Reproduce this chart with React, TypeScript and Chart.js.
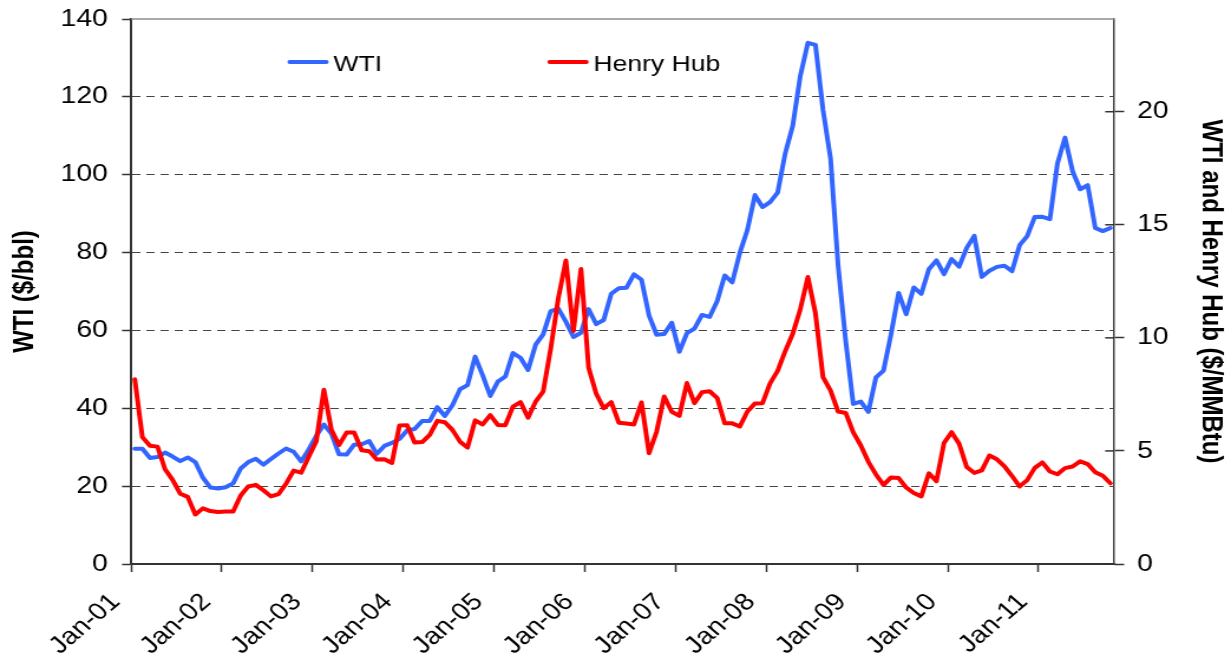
import React, { useEffect, useRef } from 'react';
import { Chart, registerables } from 'chart.js';

Chart.register(...registerables);

const FONT = '"Liberation Sans", Arial, Helvetica, sans-serif';

// The reference is a horizontally stretched picture: draw on a narrower canvas and stretch it.
const OUT_W = 1231;
const OUT_H = 656;
const STRETCH_X = 1.18;
const CANVAS_W = Math.round(OUT_W / STRETCH_X);

// Tick labels of the time axis (one per January)
const yearTicks = ['Jan-01', 'Jan-02', 'Jan-03', 'Jan-04', 'Jan-05', 'Jan-06', 'Jan-07', 'Jan-08', 'Jan-09', 'Jan-10', 'Jan-11'];
// Monthly observations shown: Jan-2001 .. Oct-2011
const monthsShown = 130;

const seriesNames = ['WTI', 'Henry Hub'];
const seriesColors = ['#3366FF', '#FF0000'];

const leftAxisTitle = 'WTI ($/bbl)';
const rightAxisTitle = 'WTI and Henry Hub ($/MMBtu)';

// WTI spot, $/bbl, monthly
const wti = [
  29.59, 29.61, 27.25, 27.49, 28.63, 27.6, 26.43, 27.37, 26.2, 22.17, 19.64, 19.39,
  19.72, 20.72, 24.53, 26.18, 27.04, 25.52, 26.97, 28.39, 29.66, 28.84, 26.35, 29.46,
  32.95, 35.83, 33.51, 28.17, 28.11, 30.66, 30.75, 31.57, 28.31, 30.34, 31.11, 32.13,
  34.31, 34.69, 36.74, 36.75, 40.28, 38.03, 40.78, 44.9, 45.94, 53.28, 48.47, 43.15,
  46.84, 48.15, 54.19, 52.98, 49.83, 56.35, 58.99, 64.98, 65.59, 62.26, 58.32, 59.41,
  65.49, 61.63, 62.69, 69.44, 70.84, 70.95, 74.41, 73.04, 63.8, 58.89, 59.08, 61.96,
  54.51, 59.28, 60.44, 63.98, 63.46, 67.49, 74.12, 72.36, 79.92, 85.8, 94.77, 91.69,
  92.97, 95.39, 105.45, 112.58, 125.4, 133.88, 133.37, 116.67, 104.11, 76.61, 57.31, 41.12,
  41.71, 39.09, 47.94, 49.65, 59.03, 69.64, 64.15, 71.05, 69.41, 75.72, 77.99, 74.47,
  78.33, 76.39, 81.2, 84.29, 73.74, 75.34, 76.32, 76.6, 75.24, 81.89, 84.25, 89.15,
  89.17, 88.58, 102.86, 109.53, 100.9, 96.26, 97.3, 86.33, 85.52, 86.32,
];

// Henry Hub spot, $/MMBtu, monthly
const henryHub = [
  8.17, 5.61, 5.23, 5.19, 4.19, 3.72, 3.11, 2.97, 2.19, 2.46, 2.34, 2.3,
  2.32, 2.32, 3.03, 3.43, 3.5, 3.26, 2.99, 3.09, 3.55, 4.13, 4.04, 4.74,
  5.43, 7.71, 5.93, 5.26, 5.81, 5.82, 5.03, 4.99, 4.62, 4.63, 4.47, 6.13,
  6.14, 5.37, 5.39, 5.71, 6.33, 6.27, 5.93, 5.41, 5.15, 6.35, 6.17, 6.58,
  6.15, 6.14, 6.96, 7.16, 6.47, 7.18, 7.63, 9.53, 11.75, 13.42, 10.3, 13.05,
  8.69, 7.54, 6.89, 7.16, 6.25, 6.21, 6.17, 7.14, 4.9, 5.85, 7.41, 6.73,
  6.55, 8.0, 7.11, 7.6, 7.64, 7.35, 6.22, 6.22, 6.08, 6.74, 7.1, 7.11,
  7.99, 8.54, 9.41, 10.18, 11.27, 12.69, 11.09, 8.26, 7.67, 6.74, 6.68, 5.82,
  5.24, 4.52, 3.96, 3.5, 3.83, 3.8, 3.38, 3.14, 2.99, 4.01, 3.66, 5.35,
  5.83, 5.32, 4.29, 4.03, 4.14, 4.8, 4.63, 4.32, 3.89, 3.43, 3.71, 4.25,
  4.49, 4.09, 3.97, 4.24, 4.31, 4.54, 4.42, 4.06, 3.9, 3.57,
];

// points sit in the middle of each month
const toPoints = (vals: number[]) => vals.map((v, i) => ({ x: i + 0.5, y: v }));

const zeroPadding = (s: any) => {
  s.paddingTop = 0;
  s.paddingBottom = 0;
  s.paddingLeft = 0;
  s.paddingRight = 0;
};

const framePlugin = {
  id: 'frameExtras',
  beforeDatasetsDraw(chart: any) {
    const { ctx, chartArea } = chart;
    ctx.save();
    // top border of plot area
    ctx.strokeStyle = '#8c8c8c';
    ctx.lineWidth = 1.5;
    ctx.beginPath();
    ctx.moveTo(chartArea.left, chartArea.top);
    ctx.lineTo(chartArea.right, chartArea.top);
    ctx.stroke();
    // inner half of the right-axis tick marks
    const y2 = chart.scales.y2;
    ctx.strokeStyle = '#333';
    ctx.lineWidth = 1.5;
    y2.ticks.forEach((t: any) => {
      const py = y2.getPixelForValue(t.value);
      ctx.beginPath();
      ctx.moveTo(chartArea.right - 7.6, py);
      ctx.lineTo(chartArea.right, py);
      ctx.stroke();
    });
    ctx.restore();
  },
};

const legendPlugin = {
  id: 'insideLegend',
  afterDraw(chart: any) {
    const { ctx, chartArea } = chart;
    const entries = [
      { name: seriesNames[0], color: seriesColors[0], dx: 133 },
      { name: seriesNames[1], color: seriesColors[1], dx: 353.3 },
    ];
    const y = chartArea.top + 43;
    ctx.save();
    entries.forEach((e) => {
      const x0 = chartArea.left + e.dx;
      ctx.strokeStyle = e.color;
      ctx.lineWidth = 4;
      ctx.lineCap = 'round';
      ctx.beginPath();
      ctx.moveTo(x0 + 1.5, y);
      ctx.lineTo(x0 + 32.5, y);
      ctx.stroke();
      ctx.fillStyle = '#000';
      ctx.font = `22.5px ${FONT}`;
      ctx.textBaseline = 'alphabetic';
      ctx.textAlign = 'left';
      ctx.fillText(e.name, x0 + 38.5, y + 9);
    });
    ctx.restore();
  },
};

export default function App() {
  const canvasRef = useRef<HTMLCanvasElement | null>(null);

  useEffect(() => {
    const canvas = canvasRef.current;
    if (!canvas) return;
    const tickFont = { family: FONT, size: 24 };
    const titleFont = { family: FONT, size: 24, weight: 'bold' as const };
    const chart = new Chart(canvas, {
      type: 'line',
      data: {
        datasets: [
          {
            label: seriesNames[1],
            data: toPoints(henryHub.slice(0, monthsShown)),
            yAxisID: 'y2',
            borderColor: seriesColors[1],
            backgroundColor: seriesColors[1],
            borderWidth: 4,
            pointRadius: 0,
            tension: 0,
            borderJoinStyle: 'round',
            borderCapStyle: 'round',
            order: 0,
          },
          {
            label: seriesNames[0],
            data: toPoints(wti.slice(0, monthsShown)),
            yAxisID: 'y',
            borderColor: seriesColors[0],
            backgroundColor: seriesColors[0],
            borderWidth: 4,
            pointRadius: 0,
            tension: 0,
            borderJoinStyle: 'round',
            borderCapStyle: 'round',
            order: 1,
          },
        ],
      },
      options: {
        animation: false,
        responsive: false,
        layout: { padding: { top: 19, left: 0, right: 0, bottom: 0 } },
        plugins: { legend: { display: false }, tooltip: { enabled: false } },
        scales: {
          x: {
            type: 'linear',
            min: 0,
            max: monthsShown,
            afterFit: (s: any) => {
              s.height = 92;
              zeroPadding(s);
            },
            ticks: {
              stepSize: 12,
              includeBounds: false,
              autoSkip: false,
              maxRotation: 45,
              minRotation: 45,
              font: tickFont,
              color: '#000',
              padding: 16,
              labelOffset: -13,
              callback: (v: any) => {
                const k = Math.round(Number(v) / 12);
                return yearTicks[k] ?? '';
              },
            },
            grid: { drawOnChartArea: false, tickLength: 8, tickColor: '#333', tickWidth: 1.5 },
            border: { color: '#333', width: 2 },
          },
          y: {
            position: 'left',
            min: 0,
            max: 140,
            afterFit: (s: any) => {
              s.width = 111;
              zeroPadding(s);
            },
            ticks: { stepSize: 20, font: tickFont, color: '#000', padding: 12 },
            grid: {
              color: (c: any) =>
                c.tick && c.tick.value > 0 && c.tick.value < 140 ? '#444' : 'rgba(0,0,0,0)',
              lineWidth: 1,
              tickLength: 7.6,
              tickColor: '#333',
              tickWidth: 1.5,
            },
            border: { color: '#333', width: 2, dash: [7, 5] },
            title: {
              display: true,
              text: leftAxisTitle,
              font: titleFont,
              color: '#000',
              padding: { top: 7, bottom: 0 },
            },
          },
          y2: {
            position: 'right',
            min: 0,
            max: 24.1,
            afterFit: (s: any) => {
              s.width = CANVAS_W - 944;
              zeroPadding(s);
            },
            ticks: { stepSize: 5, includeBounds: false, font: tickFont, color: '#000', padding: 11 },
            grid: { drawOnChartArea: false, tickLength: 8.5, tickColor: '#333', tickWidth: 1.5 },
            border: { color: '#444', width: 1.5 },
            title: {
              display: true,
              text: rightAxisTitle,
              font: titleFont,
              color: '#000',
              padding: { top: 3, bottom: 0 },
            },
          },
        },
      },
      plugins: [framePlugin, legendPlugin],
    });
    return () => chart.destroy();
  }, []);

  return (
    <div style={{ position: 'fixed', left: 0, top: 0, width: OUT_W, height: OUT_H, overflow: 'hidden', background: '#fff' }}>
      <div style={{ width: CANVAS_W, height: OUT_H, transform: `scaleX(${OUT_W / CANVAS_W})`, transformOrigin: '0 0' }}>
        <canvas ref={canvasRef} width={CANVAS_W} height={OUT_H} style={{ display: 'block' }} />
      </div>
    </div>
  );
}
